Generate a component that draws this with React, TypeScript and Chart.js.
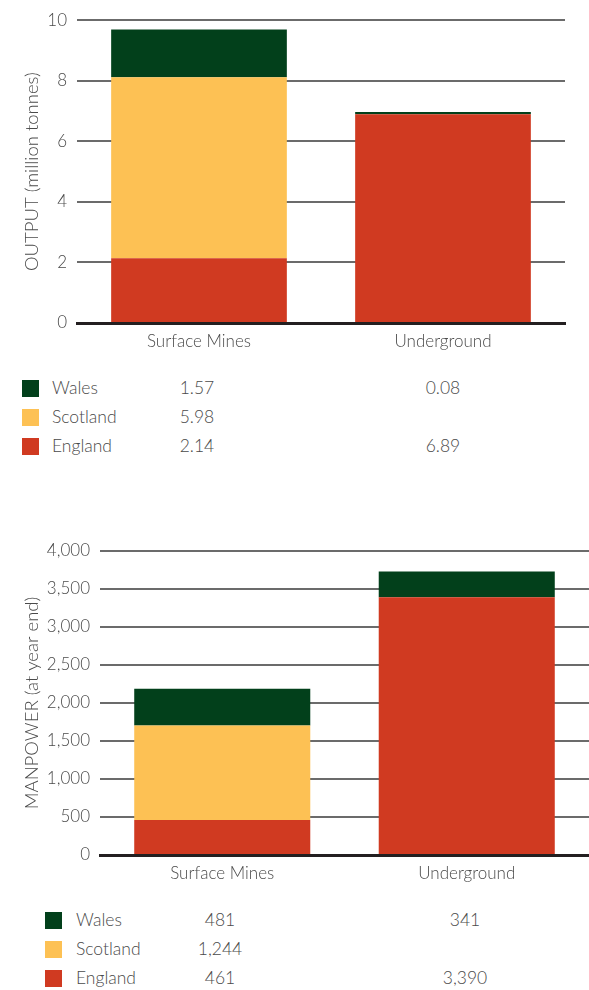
import React, { useEffect, useRef } from "react";
import { Chart, registerables } from "chart.js";

Chart.register(...registerables);

const categories = ["Surface Mines", "Underground"];
const seriesNames = ["Wales", "Scotland", "England"];
const seriesColors = ["#02401b", "#fdc154", "#d03a21"];

const outputWales = [1.57, 0.08];
const outputScotland = [5.98, null];
const outputEngland = [2.14, 6.89];

const manpowerWales = [481, 341];
const manpowerScotland = [1244, null];
const manpowerEngland = [461, 3390];

const FONT = "Lato, 'Open Sans', sans-serif";
const TEXT = "#4a4a4a";

type Vals = (number | null)[];

function makeConfig(
  wales: Vals,
  scotland: Vals,
  england: Vals,
  max: number,
  step: number,
  title: string,
  fmt: (v: number) => string,
  yWidth: number,
  padRight: number,
  padTop: number,
  xHeight: number
): any {
  return {
    type: "bar",
    data: {
      labels: categories,
      datasets: [
        { label: seriesNames[2], data: england, backgroundColor: seriesColors[2] },
        { label: seriesNames[1], data: scotland, backgroundColor: seriesColors[1] },
        { label: seriesNames[0], data: wales, backgroundColor: seriesColors[0] },
      ],
    },
    options: {
      animation: false,
      responsive: true,
      maintainAspectRatio: false,
      layout: { padding: { left: 0, right: padRight, top: padTop, bottom: 0 } },
      datasets: { bar: { categoryPercentage: 1, barPercentage: 0.72, borderWidth: 0 } },
      plugins: { legend: { display: false }, tooltip: { enabled: false } },
      scales: {
        x: {
          stacked: true,
          grid: { display: false, drawTicks: false },
          border: { display: true, color: "#231f20", width: 3, z: 1 },
          ticks: { color: TEXT, padding: 8, font: { family: FONT, size: 17, weight: "300" } },
          afterFit: (s: any) => {
            s.height = xHeight;
          },
        },
        y: {
          stacked: true,
          min: 0,
          max,
          grid: { color: "#6b6b6b", lineWidth: 2, drawTicks: false },
          border: { display: false },
          ticks: {
            stepSize: step,
            padding: 10,
            color: TEXT,
            font: { family: FONT, size: 17, weight: "300" },
            callback: (v: any) => fmt(Number(v)),
          },
          title: {
            display: true,
            text: title,
            color: TEXT,
            padding: { top: 21, bottom: 0 },
            font: { family: FONT, size: 18.5, weight: "300" },
          },
          afterFit: (s: any) => {
            s.width = yWidth;
          },
        },
      },
    },
  };
}

function BarChart(props: { config: any; left: number; top: number; width: number; height: number }) {
  const ref = useRef<HTMLCanvasElement | null>(null);
  useEffect(() => {
    if (!ref.current) return;
    const chart = new Chart(ref.current, props.config);
    return () => chart.destroy();
  }, []);
  return (
    <div
      style={{
        position: "absolute",
        left: props.left,
        top: props.top,
        width: props.width,
        height: props.height,
      }}
    >
      <canvas ref={ref} />
    </div>
  );
}

function TableLegend(props: {
  rows: Vals[];
  rowCenters: number[];
  swatchX: number;
  labelX: number;
  colCenters: number[];
  fmt: (v: number) => string;
}) {
  const { rows, rowCenters, swatchX, labelX, colCenters, fmt } = props;
  return (
    <>
      {seriesNames.map((name, i) => {
        const cy = rowCenters[i];
        return (
          <React.Fragment key={name}>
            <div
              style={{
                position: "absolute",
                left: swatchX,
                top: cy - 8,
                width: 17,
                height: 17,
                background: seriesColors[i],
              }}
            />
            <div
              style={{
                position: "absolute",
                left: labelX,
                top: cy - 12,
                height: 24,
                lineHeight: "24px",
                fontFamily: FONT,
                fontWeight: 300,
                fontSize: 17.5,
                color: TEXT,
                whiteSpace: "nowrap",
              }}
            >
              {name}
            </div>
            {rows[i].map((v, j) =>
              v === null ? null : (
                <div
                  key={j}
                  style={{
                    position: "absolute",
                    left: colCenters[j] - 60,
                    width: 120,
                    textAlign: "center",
                    top: cy - 12,
                    height: 24,
                    lineHeight: "24px",
                    fontFamily: FONT,
                    fontWeight: 300,
                    fontSize: 17.5,
                    color: TEXT,
                  }}
                >
                  {fmt(v)}
                </div>
              )
            )}
          </React.Fragment>
        );
      })}
    </>
  );
}

const fmtDec = (v: number) => v.toFixed(2);
const fmtInt = (v: number) => v.toLocaleString("en-GB");
const fmtTick = (v: number) => String(v);

export default function App() {
  const cfg1 = makeConfig(
    outputWales,
    outputScotland,
    outputEngland,
    10,
    2,
    "OUTPUT (million tonnes)",
    fmtTick,
    77,
    24,
    19,
    37
  );
  const cfg2 = makeConfig(
    manpowerWales,
    manpowerScotland,
    manpowerEngland,
    4000,
    500,
    "MANPOWER (at year end)",
    fmtInt,
    100,
    0,
    21,
    35
  );
  return (
    <div style={{ position: "absolute", left: 0, top: 0, width: 589, height: 990, background: "#fff" }}>
      <BarChart config={cfg1} left={0} top={0} width={589} height={360} />
      <TableLegend
        rows={[outputWales, outputScotland, outputEngland]}
        rowCenters={[388, 417, 446]}
        swatchX={22}
        labelX={52}
        colCenters={[197, 443]}
        fmt={fmtDec}
      />
      <BarChart config={cfg2} left={0} top={530} width={589} height={360} />
      <TableLegend
        rows={[manpowerWales, manpowerScotland, manpowerEngland]}
        rowCenters={[920, 948.5, 978]}
        swatchX={45}
        labelX={76}
        colCenters={[220, 465]}
        fmt={fmtInt}
      />
    </div>
  );
}
